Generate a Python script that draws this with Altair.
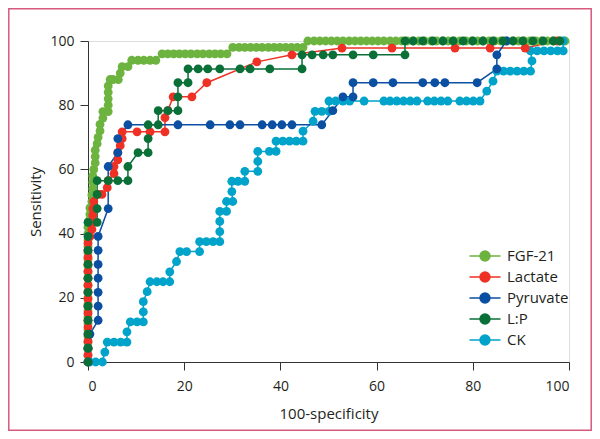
import altair as alt
import pandas as pd

series_names = ["FGF-21", "Lactate", "Pyruvate", "L:P", "CK"]
series_colors = ["#6cb33f", "#ee3124", "#0b4fa3", "#0a7038", "#00a3c9"]
draw_order = ["FGF-21", "CK", "Lactate", "Pyruvate", "L:P"]

fgf_x = [0, 0, 0, 0, 0, 0, 0, 0, 0, 0, 0, 0, 0, 0, 0, 0, 0, 0, 0, 0, 0, 0,
         0.2, 0.4, 0.4, 0.8, 0.8, 1.0, 1.0, 1.0, 1.2, 1.5, 1.5, 1.5, 1.9, 2.1, 2.5, 2.5, 3.1, 3.1,
         4.2, 4.2, 4.2, 4.2, 4.2, 4.6, 5.2, 6.3, 6.7, 7.1, 8.3, 9.1, 10.4, 11.6, 12.9, 14.1,
         15.4, 16.6, 17.8, 19.0, 20.2, 21.4, 22.7, 23.9, 25.2, 26.4, 27.6, 28.9,
         30.1, 31.4, 32.6, 33.8, 35.0, 36.2, 37.5, 38.7, 39.9, 41.1, 42.3, 43.5, 44.7,
         45.7, 47.0, 48.2, 49.4, 50.6, 51.8, 53.0, 54.3, 55.5, 56.7, 57.9, 59.1, 60.3, 61.5,
         62.8, 64.0, 65.2, 66.4, 67.6, 68.8, 70.0, 71.3, 72.5, 73.7, 74.9, 76.1, 77.3, 78.6,
         79.8, 81.0, 82.2, 83.4, 84.6, 85.8, 87.1, 88.3, 89.5, 90.7, 91.9, 93.1, 94.3, 95.5,
         96.8, 98.0, 99.2]
fgf_y = [0, 2, 4, 6, 8, 10, 12, 14, 16, 18, 20, 22, 24, 26, 28, 30, 32, 34, 36, 38, 40, 42,
         44, 46, 48, 50, 52, 54, 56, 58, 60, 62, 64, 66, 68, 70, 72, 74, 76, 78,
         78, 80, 82, 84, 86, 88, 88, 88, 90, 92, 92, 94, 94, 94, 94, 94,
         96, 96, 96, 96, 96, 96, 96, 96, 96, 96, 96, 96,
         98, 98, 98, 98, 98, 98, 98, 98, 98, 98, 98, 98, 98,
         100, 100, 100, 100, 100, 100, 100, 100, 100, 100, 100, 100, 100, 100,
         100, 100, 100, 100, 100, 100, 100, 100, 100, 100, 100, 100, 100, 100,
         100, 100, 100, 100, 100, 100, 100, 100, 100, 100, 100, 100, 100, 100,
         100, 100, 100]

lac_x = [0, 0, 0, 0, 0, 0, 0, 0, 0, 0, 0, 0, 0, 0, 0, 0, 0, 0,
         0.4, 0.8, 1.0, 1.0, 1.0, 1.2, 2.1, 2.9, 4.0, 4.2, 5.4, 5.4, 6.2, 6.2, 6.7, 7.1, 7.1,
         10.2, 12.9, 16.0, 16.0, 16.6, 17.7, 21.6, 24.7, 35.1, 42.4, 52.8, 63.2, 76.3, 83.6,
         90.9, 97.5]
lac_y = [0, 2.2, 4.3, 6.5, 8.7, 10.9, 13.0, 15.2, 17.4, 19.6, 21.7, 23.9, 26.1, 28.3, 30.4,
         32.6, 34.8, 37.0,
         39.1, 41.3, 43.5, 45.7, 47.8, 50.0, 52.2, 52.2, 54.3, 56.5, 58.7, 60.9, 63.0, 65.2,
         67.4, 69.6, 71.7,
         71.7, 71.7, 71.7, 76.1, 78.3, 82.6, 82.6, 87.0, 93.5, 95.7, 97.8, 97.8, 97.8, 97.8,
         97.8, 100]

pyr_x = [0, 0, 0.4, 2.1, 2.1, 2.1, 2.1, 2.1, 2.1, 2.1, 4.2, 4.2, 6.2, 6.2, 8.3,
         18.7, 25.4, 29.5, 31.6, 36.2, 38.3, 40.3, 42.4, 48.6, 50.9, 53.0, 55.1, 55.1,
         59.3, 63.4, 69.6, 72.1, 74.2, 80.9, 85.0, 85.0, 87.0]
pyr_y = [0, 4.3, 8.7, 13.0, 17.4, 21.7, 26.1, 30.4, 34.8, 39.1, 47.8, 60.9, 65.2, 69.6, 73.9,
         73.9, 73.9, 73.9, 73.9, 73.9, 73.9, 73.9, 73.9, 73.9, 78.3, 82.6, 82.6, 87.0,
         87.0, 87.0, 87.0, 87.0, 87.0, 87.0, 91.3, 95.7, 100]

lp_x = [0, 0, 0, 0, 0, 0, 0, 0, 0, 0, 0, 1.9, 1.9, 1.9, 1.9, 4.2, 6.2, 8.3, 8.3, 10.4,
        12.5, 12.5, 12.5, 14.6, 14.6, 16.6, 18.7, 18.7, 18.7, 20.8, 20.8, 22.9, 24.9, 27.4,
        31.6, 33.7, 37.8, 44.5, 44.5, 46.6, 48.9, 50.9, 55.1, 59.3, 65.9, 65.9,
        67.6, 69.6, 71.7, 73.8, 75.9, 78.0, 80.0, 82.1, 84.2, 86.3, 88.4, 90.4, 92.5,
        94.6, 96.7, 98.1]
lp_y = [0, 4.3, 8.7, 13.0, 17.4, 21.7, 26.1, 30.4, 34.8, 39.1, 43.5, 43.5, 47.8, 52.2, 56.5,
        56.5, 56.5, 56.5, 60.9, 65.2, 65.2, 69.6, 73.9, 73.9, 78.3, 78.3, 78.3, 82.6, 87.0,
        87.0, 91.3, 91.3, 91.3, 91.3, 91.3, 91.3, 91.3, 91.3, 95.7, 95.7, 95.7, 95.7, 95.7,
        95.7, 95.7, 100,
        100, 100, 100, 100, 100, 100, 100, 100, 100, 100, 100, 100, 100, 100, 100, 100]

ck_x = [0.4, 1.6, 3.0, 3.5, 4.0, 5.4, 6.8, 8.1, 8.1, 8.8, 10.2, 11.5, 11.5, 11.5, 12.3,
        12.9, 14.3, 15.6, 17.0, 17.0, 18.4, 19.1, 20.5, 23.2, 23.2, 24.6, 26.0, 27.4, 27.4,
        27.4, 27.4, 28.8, 28.8, 30.1, 29.9, 29.9, 31.2, 32.6, 32.6, 35.3, 35.3, 35.3, 37.7,
        39.1, 39.1, 40.5, 41.9, 43.3, 44.7, 44.7, 46.8, 47.2, 48.6, 50.1, 50.1, 51.5, 53.0,
        54.4, 57.4, 61.5, 62.8, 64.2, 65.6, 67.0, 68.4, 70.6, 72.0, 73.4, 74.8, 77.3, 78.7,
        80.1, 81.5, 82.9, 84.2, 85.0, 86.4, 87.8, 89.2, 90.6, 92.0, 92.3, 92.0, 93.4, 94.8,
        96.2, 97.6, 98.8, 98.8]
ck_y = [0, 0, 0, 3.1, 6.2, 6.2, 6.2, 6.2, 9.4, 12.5, 12.5, 12.5, 15.6, 18.8, 21.9,
        25.0, 25.0, 25.0, 25.0, 28.1, 31.3, 34.4, 34.4, 34.4, 37.5, 37.5, 37.5, 37.5, 40.6,
        43.8, 46.9, 46.9, 50.0, 50.0, 53.1, 56.3, 56.3, 56.3, 59.4, 59.4, 62.5, 65.6, 65.6,
        65.6, 68.8, 68.8, 68.8, 68.8, 68.8, 71.9, 75.0, 78.1, 78.1, 78.1, 81.3, 81.3, 81.3,
        81.3, 81.3, 81.3, 81.3, 81.3, 81.3, 81.3, 81.3, 81.3, 81.3, 81.3, 81.3, 81.3, 81.3,
        81.3, 81.3, 84.4, 87.5, 90.6, 90.6, 90.6, 90.6, 90.6, 90.6, 93.8, 96.9, 96.9, 96.9,
        96.9, 96.9, 96.9, 100]

series_data = {
    "FGF-21": (fgf_x, fgf_y),
    "Lactate": (lac_x, lac_y),
    "Pyruvate": (pyr_x, pyr_y),
    "L:P": (lp_x, lp_y),
    "CK": (ck_x, ck_y),
}

rows = []
k = 0
for name in draw_order:
    xs, ys = series_data[name]
    for xv, yv in zip(xs, ys):
        rows.append({"series": name, "x": xv, "y": yv, "k": k})
        k += 1
df = pd.DataFrame(rows)

FONT = "Open Sans"
TEXT = "#231f20"
AXC = "#333333"
sym_path = ("M-1.94,0H1.94M0.62,0A0.62,0.62,0,1,1,-0.62,0"
            "A0.62,0.62,0,1,1,0.62,0Z")

legend = alt.Legend(
    title=None, orient="none", legendX=388, legendY=206, padding=0,
    symbolType=sym_path, symbolSize=256, symbolStrokeWidth=1.5,
    labelFontSize=15, labelFont=FONT, labelColor=TEXT, labelOffset=13,
    rowPadding=4,
)
cscale = alt.Scale(domain=series_names, range=series_colors)

xax = alt.Axis(values=[0, 20, 40, 60, 80, 100], grid=False, tickSize=8, labelPadding=9,
               domainColor=AXC, tickColor=AXC, labelFontSize=14, titleFontSize=15,
               labelFont=FONT, titleFont=FONT, labelColor=TEXT, titleColor=TEXT,
               titleFontWeight="normal", titlePadding=13)
yax = alt.Axis(values=[0, 20, 40, 60, 80, 100], grid=False, tickSize=8, labelPadding=6,
               domainColor=AXC, tickColor=AXC, labelFontSize=14, titleFontSize=15,
               labelFont=FONT, titleFont=FONT, labelColor=TEXT, titleColor=TEXT,
               titleFontWeight="normal", titlePadding=6)

X = alt.X("x:Q", scale=alt.Scale(domain=[0, 100], nice=False), axis=xax, title="100-specificity")
Y = alt.Y("y:Q", scale=alt.Scale(domain=[0, 100], nice=False), axis=yax, title="Sensitivity")

lines = alt.Chart(df).mark_line(strokeWidth=1.5).encode(
    x=X, y=Y,
    stroke=alt.Stroke("series:N", scale=cscale, legend=legend),
    detail="series:N",
    order="k:Q",
)
points = alt.Chart(df).mark_point(filled=True, size=78, opacity=1, strokeWidth=0).encode(
    x=X, y=Y,
    fill=alt.Fill("series:N", scale=cscale, legend=legend),
)

frame = alt.Chart(pd.DataFrame({"f": [0]})).mark_rect(
    fill=None, stroke="#d75a7c", strokeWidth=1.5
).encode(
    x=alt.value(-79.2), x2=alt.value(503.2), y=alt.value(-32.2), y2=alt.value(389.2)
)

chart = alt.layer(frame, lines, points).properties(
    width=481, height=321,
    autosize=alt.AutoSizeParams(type="none"),
    padding={"left": 80, "top": 33, "right": 23, "bottom": 69},
).configure_view(stroke=None).configure(background="white")

chart.save("out.html", embed_options={"renderer": "svg", "actions": False})
